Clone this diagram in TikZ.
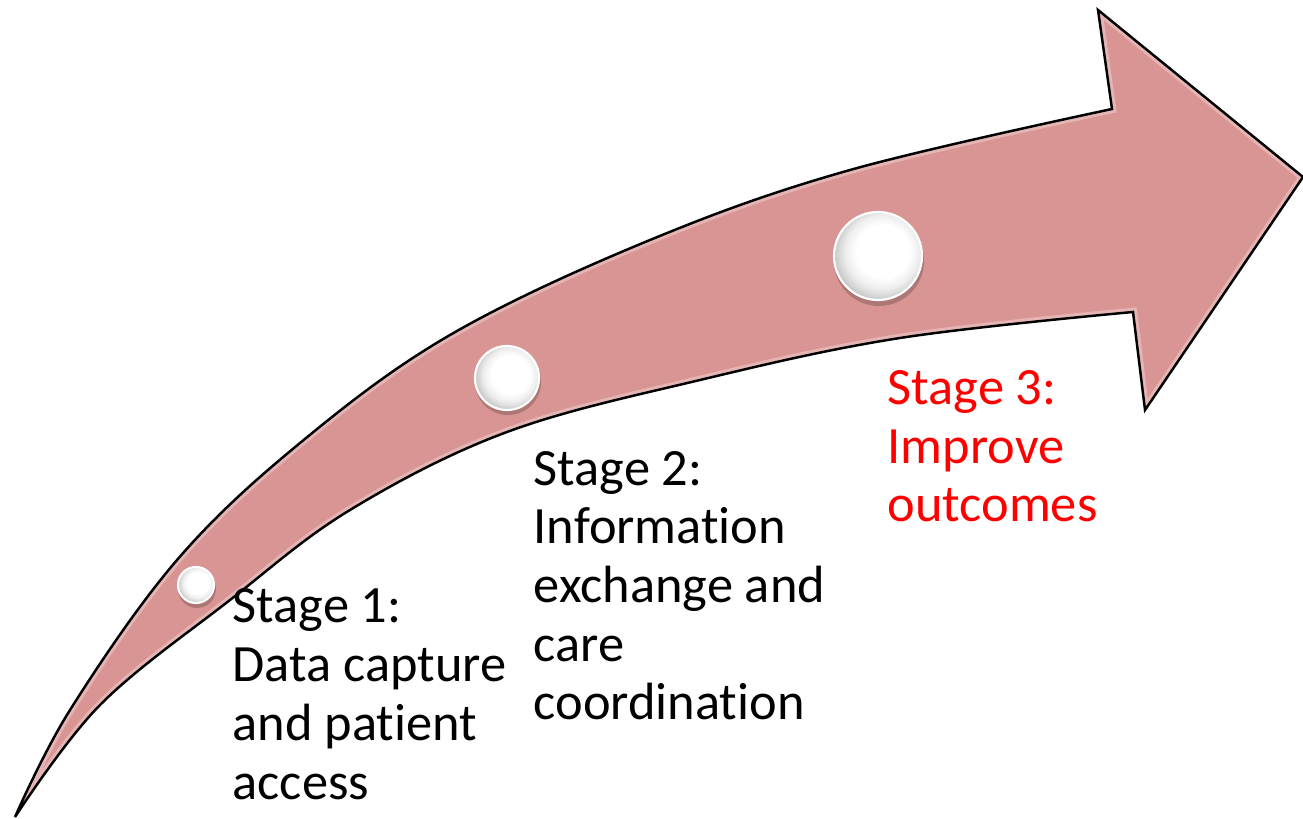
\documentclass[tikz,border=0pt]{standalone}
\usepackage{fontspec}
\setmainfont{Carlito}[Ligatures=NoCommon]
\usepackage{xcolor}
\definecolor{band}{RGB}{217,149,148}
\definecolor{stagered}{RGB}{255,0,0}
\usetikzlibrary{positioning}
\pgfdeclareradialshading{pearl}{\pgfpoint{4bp}{4bp}}{%
  color(0bp)=(white); color(15bp)=(white); color(21bp)=(black!7);
  color(27bp)=(black!22); color(31bp)=(black!32); color(50bp)=(black!32)}
\newcommand\bandoutline{%
  plot[smooth,tension=0.6] coordinates {(15,817) (70,710) (177,560) (300,443)
    (450,335) (650,240) (850,170) (1112,109)}
  -- (1098,10) -- (1303,177) -- (1145,410) -- (1133,312)
  -- plot[smooth,tension=0.6] coordinates {(1133,312) (900,338) (700,380)
    (507,432) (350,510) (230,600) (100,705) (15,817)} -- cycle}
\tikzset{
  pearl/.style={circle,shade,shading=pearl,draw=white,line width=0.6pt,inner sep=0pt},
  shadow/.style={fill=black,opacity=.2},
  stagetext/.style={font=\fontsize{14.9pt}{16.7pt}\selectfont,align=left,%
    anchor=base west,inner sep=0pt},
  arrowband/.style={fill=band,draw=black,line width=0.7pt,line join=miter},
  bevel/.style={draw=white,opacity=.3,line width=2.4pt},
}
\begin{document}
\begin{tikzpicture}[x=0.01cm,y=-0.01cm]
\useasboundingbox (0,0) rectangle (1303,819);
\begin{scope}
  \clip \bandoutline;
  \fill[band] (0,0) rectangle (1303,819);
  \draw[bevel] \bandoutline;
\end{scope}
\draw[arrowband,fill=none] \bandoutline;
\fill[shadow] (197,589) circle (0.19cm);
\node[pearl,minimum size=0.36cm] (p1) at (196,585) {};
\fill[shadow] (508,382) circle (0.33cm);
\node[pearl,minimum size=0.64cm] (p2) at (507,378) {};
\fill[shadow] (879,261) circle (0.45cm);
\node[pearl,minimum size=0.88cm] (p3) at (878,256) {};
\node[stagetext] (s1) at (232,799) {Stage 1:\\Data capture\\and patient\\access};
\node[stagetext] (s2) at (533,720) {Stage 2:\\Information\\exchange and\\care\\coordination};
\node[stagetext,text=stagered] (s3) at (887,522) {Stage 3:\\Improve\\outcomes};
\end{tikzpicture}
\end{document}
